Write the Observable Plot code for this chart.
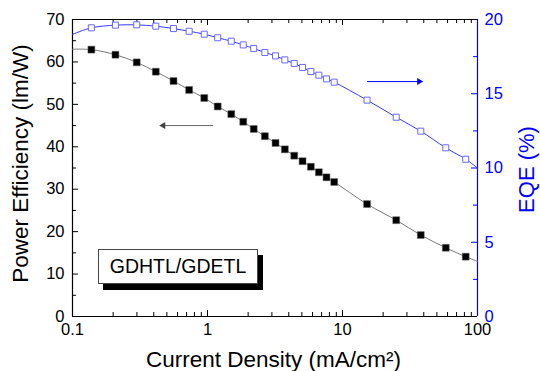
<!DOCTYPE html>
<html><head><meta charset="utf-8">
<script src="https://cdn.jsdelivr.net/npm/d3@7"></script>
<script src="https://cdn.jsdelivr.net/npm/@observablehq/plot@0.6"></script>
<style>
body{margin:0;background:#fff;}
#wrap{position:relative;width:540px;height:371px;font-family:"Liberation Sans",Arial,sans-serif;}
#legend{position:absolute;left:98px;top:249px;width:158px;height:33px;background:#fff;border:1px solid #444;box-shadow:5px 6px 0 #000;font-size:19.5px;line-height:33px;text-align:center;color:#000;}
</style></head>
<body><div id="wrap"></div>
<script>
const currentDensity = [0.138,0.208,0.299,0.414,0.560,0.731,0.946,1.19,1.50,1.84,2.20,2.66,3.19,3.74,4.39,5.06,5.83,6.68,7.61,8.68,15.2,25.0,38.0,58.2,81.8];
const powerEfficiency = [62.9,61.7,59.9,57.7,55.5,53.4,51.5,49.5,47.7,45.9,44.2,42.5,40.9,39.4,37.9,36.6,35.3,34.0,32.8,31.7,26.5,22.7,19.2,16.2,14.1];
const eqe = [19.44,19.62,19.64,19.55,19.39,19.21,19.01,18.77,18.54,18.29,18.05,17.78,17.55,17.28,17.04,16.77,16.50,16.25,16.0,15.78,14.57,13.42,12.48,11.36,10.59];
// fitted line ends at the axis limits
const lineEndsX = [0.1, 100];
const peLineEnds = [63.0, 13.0];
const eqeLineEnds = [19.0, 10.0];
const leftTicks = [0,10,20,30,40,50,60,70];
const leftMinor = [5,15,25,35,45,55,65];
const rightTicks = [0,5,10,15,20];
const rightMinor = [2.5,7.5,12.5,17.5];
const xTicks = [0.1,1,10,100];
const legendLabel = "GDHTL/GDETL";
// arrows
const peArrow = {x1:1.1, x2:0.47, y:45.0};
const eqeArrow = {x1:15.2, x2:37.0, y:15.82};

const K = 70/20; // EQE -> left-axis units
const pts = currentDensity.map((x,i)=>({x, pe:powerEfficiency[i], eqe:eqe[i]*K}));
const peLine = [{x:lineEndsX[0], y:peLineEnds[0]}, ...pts.map(d=>({x:d.x,y:d.pe})), {x:lineEndsX[1], y:peLineEnds[1]}];
const eqeLine = [{x:lineEndsX[0], y:eqeLineEnds[0]*K}, ...pts.map(d=>({x:d.x,y:d.eqe})), {x:lineEndsX[1], y:eqeLineEnds[1]*K}];
const xMinor = [];
for (const d of [0.1,1,10]) for (let k=2;k<=9;k++) xMinor.push(d*k);

const W=540,H=371,ML=72,MR=63,MT=19,MB=55;
const FW=W-ML-MR, FH=H-MT-MB;
const blue="#0000ff";
const font='"Liberation Sans", Arial, sans-serif';

const chart = Plot.plot({
  width:W,height:H,marginLeft:ML,marginRight:MR,marginTop:MT,marginBottom:MB,
  style:{fontFamily:font,background:"white",color:"black",overflow:"visible"},
  x:{type:"log",domain:[0.1,100]},
  y:{domain:[0,70]},
  marks:[
    Plot.tickY(leftTicks,{y:d=>d,insetRight:FW-6,stroke:"black"}),
    Plot.tickY(leftMinor,{y:d=>d,insetRight:FW-4,stroke:"black"}),
    Plot.tickY(rightTicks,{y:d=>d*K,insetLeft:FW-6,stroke:blue}),
    Plot.tickY(rightMinor,{y:d=>d*K,insetLeft:FW-4,stroke:blue}),
    Plot.tickX(xTicks,{x:d=>d,insetTop:FH-6,stroke:"black"}),
    Plot.tickX(xMinor,{x:d=>d,insetTop:FH-4,stroke:"black"}),
    Plot.tickX(xTicks,{x:d=>d,insetBottom:FH-6,stroke:"black"}),
    Plot.tickX(xMinor,{x:d=>d,insetBottom:FH-4,stroke:"black"}),
    Plot.axisY({anchor:"left",ticks:leftTicks,tickSize:0,tickPadding:8,fontSize:16.5,label:null}),
    Plot.axisY({anchor:"right",ticks:rightTicks.map(d=>d*K),tickFormat:d=>String(Math.round(d/K)),tickSize:0,tickPadding:7,fontSize:16.5,label:null,color:blue}),
    Plot.axisX({anchor:"bottom",ticks:xTicks,tickFormat:d=>String(d),tickSize:0,tickPadding:7,fontSize:16.5,label:null}),
    Plot.ruleY([0],{stroke:"black",strokeWidth:1.2}),
    Plot.ruleY([70],{stroke:"black",strokeWidth:1.2}),
    Plot.ruleX([0.1],{stroke:"black",strokeWidth:1.2}),
    Plot.ruleX([100],{stroke:blue,strokeWidth:1.2}),
    Plot.line(peLine,{x:"x",y:"y",stroke:"#777",strokeWidth:1,curve:"catmull-rom"}),
    Plot.line(eqeLine,{x:"x",y:"y",stroke:"#3838ff",strokeWidth:1,curve:"catmull-rom"}),
    Plot.dot(pts,{x:"x",y:"pe",symbol:"square",r:3.9,fill:"black",stroke:"#666",strokeWidth:0.5}),
    Plot.dot(pts,{x:"x",y:"eqe",symbol:"square",r:3.4,fill:"white",stroke:"#6a6aff",strokeWidth:1}),
    Plot.link([peArrow],{x1:"x1",x2:"x2",y1:"y",y2:"y",stroke:"#666",strokeWidth:1}),
    Plot.dot([peArrow],{x:"x2",y:"y",symbol:"triangle",r:2.6,fill:"#444",stroke:"none",rotate:-90}),
    Plot.link([eqeArrow],{x1:"x1",x2:"x2",y1:d=>d.y*K,y2:d=>d.y*K,stroke:blue,strokeWidth:1}),
    Plot.dot([eqeArrow],{x:"x2",y:d=>d.y*K,symbol:"triangle",r:2.6,fill:blue,stroke:"none",rotate:90}),
    Plot.text(["Power Efficiency (lm/W)"],{frameAnchor:"left",textAnchor:"middle",lineAnchor:"middle",dx:-52,dy:-4.5,rotate:-90,fontSize:22.5,fill:"black"}),
    Plot.text(["EQE (%)"],{frameAnchor:"right",textAnchor:"middle",lineAnchor:"middle",dx:49,dy:1.5,rotate:-90,fontSize:22,fill:blue}),
    Plot.text(["Current Density (mA/cm²)"],{frameAnchor:"bottom",textAnchor:"middle",lineAnchor:"middle",dx:-1.5,dy:43,fontSize:22.5,fill:"black"})
  ]
});
const wrap=document.getElementById("wrap");
wrap.appendChild(chart);
const lg=document.createElement("div");lg.id="legend";lg.textContent=legendLabel;wrap.appendChild(lg);
</script></body></html>
